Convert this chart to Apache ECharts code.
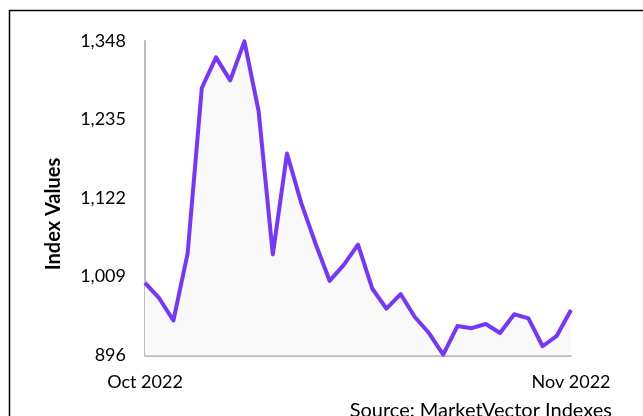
<!DOCTYPE html>
<html>
<head>
<meta charset="utf-8">
<script src="https://cdn.jsdelivr.net/npm/echarts@6/dist/echarts.min.js"></script>
<style>
html,body{margin:0;padding:0;background:#fff;}
#c{width:643px;height:416px;}
</style>
</head>
<body>
<div id="c"></div>
<script>
var dates = ["2022-10-02","2022-10-03","2022-10-04","2022-10-05","2022-10-06","2022-10-07","2022-10-08","2022-10-09","2022-10-10","2022-10-11","2022-10-12","2022-10-13","2022-10-14","2022-10-15","2022-10-16","2022-10-17","2022-10-18","2022-10-19","2022-10-20","2022-10-21","2022-10-22","2022-10-23","2022-10-24","2022-10-25","2022-10-26","2022-10-27","2022-10-28","2022-10-29","2022-10-30","2022-10-31","2022-11-01"];
var values = [1000, 978, 946, 1042, 1280, 1324, 1291, 1347, 1247, 1041, 1186, 1115, 1057, 1003, 1026, 1055, 992, 963, 984, 951, 928, 897, 938, 935, 941, 928, 955, 949, 909, 924, 961];
var yTicks = [896, 1009, 1122, 1235, 1348];
var firstLabel = "Oct 2022";
var lastLabel = "Nov 2022";
var yTitle = "Index Values";
var sourceText = "Source: MarketVector Indexes";

var chart = echarts.init(document.getElementById('c'), null, {renderer: 'canvas'});
var FONT = 'Lato';
chart.setOption({
  animation: false,
  backgroundColor: '#ffffff',
  grid: {left: 145, right: 72, top: 40.7, bottom: 60.7, containLabel: false},
  xAxis: {
    type: 'category',
    data: dates,
    boundaryGap: false,
    axisLine: {show: true, lineStyle: {color: '#a6a6a6', width: 1.5}},
    axisTick: {show: false},
    splitLine: {show: false},
    axisLabel: {
      interval: 0,
      margin: 18,
      fontFamily: FONT,
      fontSize: 18,
      color: '#000',
      formatter: function (v, i) {
        if (i === 0) return firstLabel;
        if (i === dates.length - 1) return lastLabel;
        return '';
      }
    }
  },
  yAxis: {
    type: 'value',
    min: yTicks[0],
    max: yTicks[yTicks.length - 1],
    interval: yTicks[1] - yTicks[0],
    axisLine: {show: true, lineStyle: {color: '#a6a6a6', width: 1.5}},
    axisTick: {show: false},
    splitLine: {show: false},
    axisLabel: {
      margin: 19,
      fontFamily: FONT,
      fontSize: 18,
      color: '#000',
      formatter: function (v) {
        return Math.round(v).toLocaleString('en-US');
      }
    }
  },
  graphic: [
    {type: 'rect', z: 100, silent: true,
      shape: {x: 9.5, y: 10.5, width: 800, height: 600},
      style: {fill: 'none', stroke: '#000', lineWidth: 1.5}},
    {type: 'text', z: 100, x: 54, y: 214, rotation: Math.PI / 2,
      style: {text: yTitle, fontFamily: FONT, fontWeight: 'bold', fontSize: 20,
        fill: '#000', align: 'center', verticalAlign: 'middle'}},
    {type: 'text', z: 100, x: 612, y: 411,
      style: {text: sourceText, fontFamily: FONT, fontSize: 20,
        fill: '#000', align: 'right', verticalAlign: 'middle'}}
  ],
  series: [{
    type: 'line',
    data: values,
    symbol: 'none',
    lineStyle: {color: '#7536ff', width: 4, join: 'round'},
    areaStyle: {color: '#f9f9f9', opacity: 1, origin: 'start'},
    z: 3
  }]
});
</script>
</body>
</html>
